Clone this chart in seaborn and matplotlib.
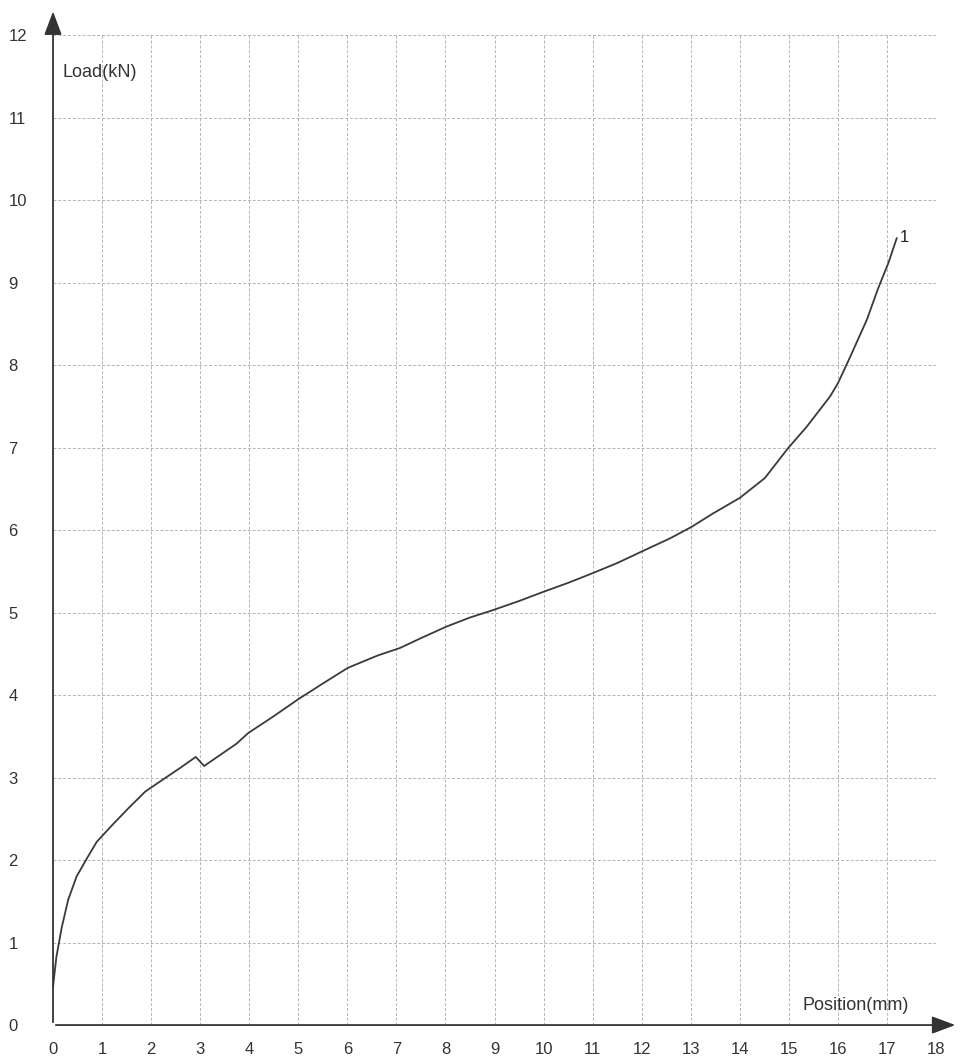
import numpy as np
import pandas as pd
import seaborn as sns
from matplotlib import pyplot as plt

sns.set_theme(style="white")
plt.rcParams['font.family'] = ['Liberation Sans', 'DejaVu Sans']

# curve: position (mm) vs load (kN)
position = [0.0, 0.01, 0.07, 0.18, 0.31, 0.48, 0.69, 0.89, 1.2, 1.54, 1.88, 2.25,
            2.6, 2.91, 3.08, 3.74, 3.98, 4.49, 5.0, 5.5, 6.01, 6.62, 7.07, 7.5,
            8.02, 8.5, 8.97, 9.5, 9.99, 10.5, 11.01, 11.5, 12.0, 12.58, 13.02,
            13.45, 14.0, 14.51, 14.98, 15.36, 15.84, 16.0, 16.25, 16.59, 16.82,
            17.03, 17.2]
load = [0.45, 0.52, 0.83, 1.19, 1.52, 1.8, 2.02, 2.22, 2.42, 2.63, 2.83, 2.98,
        3.12, 3.25, 3.14, 3.41, 3.54, 3.74, 3.95, 4.14, 4.33, 4.48, 4.57, 4.69,
        4.83, 4.94, 5.03, 5.14, 5.25, 5.36, 5.48, 5.6, 5.74, 5.9, 6.04,
        6.2, 6.39, 6.63, 6.99, 7.25, 7.62, 7.78, 8.1, 8.55, 8.93,
        9.24, 9.54]
x_ticks = list(range(0, 19))
y_ticks = list(range(0, 13))

df = pd.DataFrame({'position': position, 'load': load})

fig = plt.figure(figsize=(9.64, 10.63), dpi=100)
ax = fig.add_axes([0.055, 0.0357, 0.916, 0.9313])

# grid, dotted like the printed paper
for xv in x_ticks[1:]:
    ax.plot([xv, xv], [0, 12], color='#b4b4b4', lw=0.7, ls=(0, (3, 2)), zorder=1)
for yv in y_ticks[1:]:
    ax.plot([0, 18], [yv, yv], color='#b4b4b4', lw=0.7, ls=(0, (3, 2)), zorder=1)

sns.lineplot(data=df, x='position', y='load', sort=False, estimator=None,
             color='#3a3a3a', lw=1.3, ax=ax, zorder=3)
ax.text(17.27, 9.55, '1', fontsize=12, color='#222222', va='center', ha='left')

ax.set_xlim(0, 18)
ax.set_ylim(0, 12)
for s in ax.spines.values():
    s.set_visible(False)

# axes with arrow heads
ax.annotate('', xy=(18.45, 0), xytext=(0, 0),
            arrowprops=dict(arrowstyle='-|>,head_length=1.2,head_width=0.45',
                            color='#333333', lw=1.3), annotation_clip=False)
ax.annotate('', xy=(0, 12.32), xytext=(0, 0),
            arrowprops=dict(arrowstyle='-|>,head_length=1.2,head_width=0.45',
                            color='#333333', lw=1.3), annotation_clip=False)

ax.set_xticks(x_ticks)
ax.set_yticks(y_ticks)
ax.tick_params(axis='x', length=0, pad=12, labelsize=12, labelcolor='#333333')
ax.tick_params(axis='y', length=0, pad=32, labelsize=12, labelcolor='#333333')
for lab in ax.get_yticklabels():
    lab.set_horizontalalignment('left')
ax.set_xlabel('')
ax.set_ylabel('')

ax.text(0.2, 11.55, 'Load(kN)', fontsize=13, color='#333333', ha='left', va='center')
ax.text(15.27, 0.24, 'Position(mm)', fontsize=13, color='#333333', ha='left', va='center')

fig.savefig('out.png', dpi=100)
